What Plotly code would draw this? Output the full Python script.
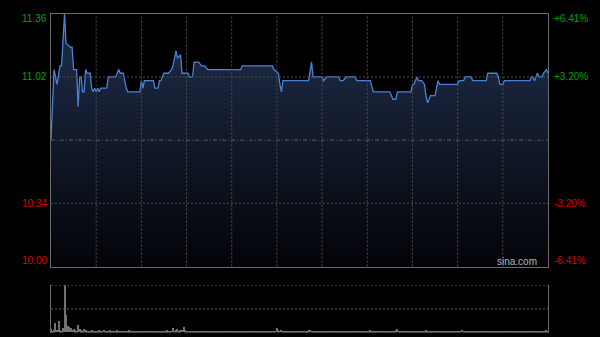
import plotly.graph_objects as go

# ---- data ----
prev_close = 10.68
price_minutes = [0,2,4,6,7,9,10,13,14,15,17,18,19,20,21,22,23,24,26,27,28,29,30,31,32,33,37,38,43,45,46,48,50,51,59,60,61,62,68,69,71,72,73,75,78,80,81,83,84,86,87,91,92,94,95,98,100,102,104,126,127,147,148,151,152,153,154,171,173,174,180,181,183,191,192,194,196,202,203,212,214,225,227,229,230,239,240,241,243,244,246,248,249,250,252,255,257,258,270,271,274,275,279,280,289,290,296,297,298,300,301,318,319,320,321,323,324,326,327,329,330]
prices = [10.68,11.06,10.98,11.08,11.08,11.36,11.20,11.18,11.18,11.06,11.06,10.86,11.02,11.02,10.94,10.94,11.06,11.04,11.04,10.96,10.94,10.96,10.94,10.96,10.94,10.96,10.96,11.02,11.02,11.06,11.04,11.04,10.96,10.94,10.94,11.00,10.96,11.00,11.00,10.96,10.96,11.00,11.00,11.04,11.04,11.06,11.08,11.16,11.12,11.14,11.04,11.04,11.02,11.02,11.10,11.10,11.08,11.08,11.06,11.06,11.08,11.08,11.06,11.04,10.98,10.94,11.00,11.00,11.10,11.02,11.02,11.00,11.02,11.02,11.00,11.00,11.02,11.02,11.00,11.00,10.94,10.94,10.90,10.90,10.94,10.94,10.98,10.98,11.02,11.00,11.00,10.98,10.92,10.88,10.92,10.92,11.00,10.98,10.98,11.00,11.00,11.02,11.02,11.00,11.00,11.04,11.04,11.02,10.98,10.98,11.00,11.00,11.02,11.02,11.00,11.04,11.02,11.02,11.04,11.06,11.04]

volume_minutes = list(range(331))
volumes = [6,3,4,19,5,23,4,3,8,100,37,13,12,8,5,6,4,3,15,6,4,3,6,4,3,2,3,4,2,3,
           2,3,4,2,3,5,2,3,2,4,3,2,3,2,4,3,2,3,2,2,3,2,4,2,3,2,3,2,2,3,
           2,3,2,3,2,2,3,2,3,2,2,3,2,2,3,2,3,4,3,2,3,8,3,4,7,3,4,5,12,4,
           3,2,3,2,3,2,2,3,2,2,3,2,2,3,2,2,3,2,2,3,2,2,3,2,2,3,2,2,3,2,
           2,3,2,2,3,2,2,3,2,2,3,2,2,3,2,2,3,2,2,3,2,3,2,2,3,2,2,3,2,3,
           8,4,3,5,3,2,2,3,2,2,3,2,2,3,2,2,3,2,2,3,2,4,5,3,2,2,3,2,2,3,
           2,2,3,2,2,3,2,2,3,2,2,3,2,2,3,2,2,3,2,2,3,2,2,3,2,2,3,2,2,3,
           2,3,4,3,2,2,3,2,2,3,2,2,3,2,2,3,2,3,2,4,6,3,2,3,2,2,3,2,2,3,
           3,2,3,2,2,3,2,3,3,4,3,2,3,2,2,3,2,3,2,2,3,2,2,3,2,2,3,2,2,3,
           2,3,3,5,3,2,2,3,2,2,3,2,2,3,2,2,3,2,2,3,3,2,2,3,2,2,3,2,2,3,
           2,2,3,2,2,3,2,2,3,2,2,3,2,2,3,2,2,3,2,2,3,2,3,2,2,3,3,2,3,4,3]

left_labels = ["11.36", "11.02", "10.34", "10.00"]
right_labels = ["+6.41%", "+3.20%", "-3.20%", "-6.41%"]
label_levels = [11.36, 11.02, 10.34, 10.00]
label_colors = ["#00a000", "#00a000", "#dd0000", "#dd0000"]
grid_minutes = [30, 60, 90, 120, 150, 180, 210, 240, 270, 300]
grid_prices = [10.34, 11.02]
grid_volumes = [50, 100]

# ---- figure ----
W, H = 600, 337
xdom = [51 / W, 548 / W]
ydom_main = [1 - 266.5 / H, 1 - 13.8 / H]
ydom_vol = [1 - 332.5 / H, 1 - 285.3 / H]

GRID = "#4e4e4e"
BORDER = "#6a6a6a"
DOT = "2px,2px"

fig = go.Figure()
fig.add_trace(go.Scatter(
    x=price_minutes, y=prices, mode="lines",
    line=dict(color="#4a82d6", width=1.3),
    fill="tozeroy",
    fillgradient=dict(type="vertical",
                      colorscale=[[0, "#030408"], [1, "#1b263f"]],
                      start=10.0, stop=11.1),
    xaxis="x", yaxis="y", hoverinfo="skip", showlegend=False))

fig.add_trace(go.Bar(
    x=volume_minutes, y=volumes, width=0.7,
    marker=dict(color="#727272", line=dict(width=0)),
    xaxis="x2", yaxis="y2", hoverinfo="skip", showlegend=False))

shapes = []
for m in grid_minutes:
    shapes.append(dict(type="line", xref="x", yref="y domain", x0=m, x1=m, y0=0, y1=1,
                       layer="above", line=dict(color=GRID, width=1, dash=DOT)))
for p in grid_prices:
    shapes.append(dict(type="line", xref="x domain", yref="y", x0=0, x1=1, y0=p, y1=p,
                       layer="above", line=dict(color=GRID, width=1, dash=DOT)))
shapes.append(dict(type="line", xref="x domain", yref="y", x0=0, x1=1,
                   y0=prev_close, y1=prev_close, layer="above",
                   line=dict(color="#5a5a5a", width=1, dash="4px,2px,1px,2px")))
for v in grid_volumes:
    shapes.append(dict(type="line", xref="x2 domain", yref="y2", x0=0, x1=1, y0=v, y1=v,
                       layer="above", line=dict(color="#5c5c5c", width=1, dash=DOT)))

annotations = []
for lvl, txt, col, i in zip(label_levels, left_labels, label_colors, range(4)):
    shift = -5 if i == 0 else (6 if i == 3 else 0)
    annotations.append(dict(x=48 / W, xref="paper", y=lvl, yref="y",
                            text=txt, showarrow=False, xanchor="right",
                            yanchor="middle", yshift=shift, borderpad=0,
                            font=dict(family="Liberation Sans, Arial", size=10, color=col)))
for lvl, txt, col, i in zip(label_levels, right_labels, label_colors, range(4)):
    shift = -5 if i == 0 else (6 if i == 3 else 0)
    annotations.append(dict(x=553 / W, xref="paper", y=lvl, yref="y",
                            text=txt, showarrow=False, xanchor="left",
                            yanchor="middle", yshift=shift, borderpad=0,
                            font=dict(family="Liberation Sans, Arial", size=10, color=col)))
annotations.append(dict(x=538 / W, xref="paper", y=10.0, yref="y",
                        text="sina.com", showarrow=False, xanchor="right",
                        yanchor="middle", yshift=5, borderpad=0,
                        font=dict(family="Liberation Sans, Arial", size=10, color="#b4b4b4")))

fig.update_layout(
    width=W, height=H,
    margin=dict(l=0, r=0, t=0, b=0),
    paper_bgcolor="#000000", plot_bgcolor="#000000",
    showlegend=False, bargap=0,
    annotations=annotations, shapes=shapes,
    xaxis=dict(domain=xdom, range=[0, 330], anchor="y",
               showticklabels=False, ticks="", showgrid=False,
               showline=True, mirror=True, linecolor=BORDER, linewidth=1,
               zeroline=False, fixedrange=True),
    yaxis=dict(domain=ydom_main, range=[10.0, 11.36], anchor="x",
               showticklabels=False, ticks="", showgrid=False,
               showline=True, mirror=True, linecolor=BORDER, linewidth=1,
               zeroline=False, fixedrange=True),
    xaxis2=dict(domain=xdom, range=[0, 330], anchor="y2",
                showticklabels=False, ticks="", showgrid=False,
                showline=False, zeroline=False, fixedrange=True),
    yaxis2=dict(domain=ydom_vol, range=[0, 100], anchor="x2",
                showticklabels=False, ticks="", showgrid=False,
                showline=True, mirror=True, linecolor=BORDER, linewidth=1,
                zeroline=False, fixedrange=True),
)

fig.write_html("out.html", config={"displayModeBar": False})
